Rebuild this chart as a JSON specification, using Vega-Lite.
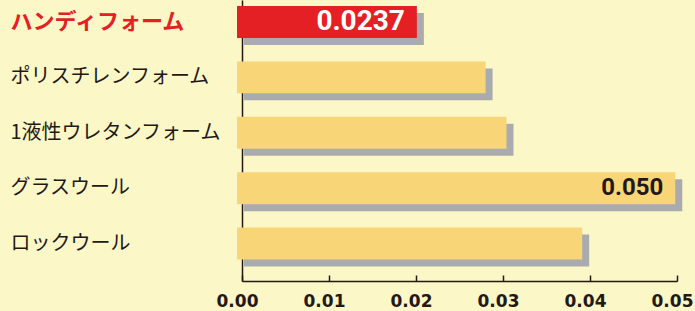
{
  "$schema": "https://vega.github.io/schema/vega-lite/v6.json",
  "width": 435,
  "height": 281,
  "autosize": {"type": "none"},
  "padding": {"left": 242, "top": 0, "right": 18, "bottom": 30},
  "background": "#FBF7C7",
  "config": {"view": {"stroke": null}},
  "data": {
    "values": [
      {"name": "ハンディフォーム", "value": 0.0201, "label": "0.0237", "hl": true},
      {"name": "ポリスチレンフォーム", "value": 0.028, "hl": false},
      {"name": "1液性ウレタンフォーム", "value": 0.0304, "hl": false},
      {"name": "グラスウール", "value": 0.0498, "label": "0.050", "hl": false},
      {"name": "ロックウール", "value": 0.0391, "hl": false}
    ]
  },
  "encoding": {
    "y": {
      "field": "name",
      "type": "nominal",
      "sort": null,
      "scale": {"paddingInner": 0.423, "paddingOuter": 0.2477, "align": 0.218},
      "axis": {
        "title": null,
        "domainColor": "#231815",
        "domainWidth": 1.5,
        "ticks": false,
        "labelAlign": "left",
        "labelBaseline": "middle",
        "labelPadding": 232,
        "labelLimit": 300,
        "labelFont": "Noto Sans CJK JP",
        "labelFontSize": {"condition": {"test": "datum.value == 'ハンディフォーム'", "value": 22}, "value": 20},
        "labelFontWeight": {"condition": {"test": "datum.value == 'ハンディフォーム'", "value": "bold"}, "value": "normal"},
        "labelColor": {"condition": {"test": "datum.value == 'ハンディフォーム'", "value": "#E42024"}, "value": "#231815"}
      }
    },
    "x": {
      "field": "value",
      "type": "quantitative",
      "scale": {"domain": [0, 0.05], "nice": false, "zero": false},
      "axis": {
        "title": null,
        "values": [0, 0.01, 0.02, 0.03, 0.04, 0.05],
        "format": ".2f",
        "grid": false,
        "domainColor": "#231815",
        "domainWidth": 1.5,
        "tickColor": "#231815",
        "tickWidth": 1.5,
        "tickSize": -6,
        "labelFlush": false,
        "labelOverlap": false,
        "labelOffset": -5,
        "labelPadding": 18,
        "labelFont": "DejaVu Sans",
        "labelFontWeight": "bold",
        "labelFontSize": 17,
        "labelColor": "#231815"
      }
    }
  },
  "layer": [
    {
      "mark": {"type": "bar", "color": "#AAABAF", "xOffset": 7, "x2Offset": 2, "yOffset": 7},
      "encoding": {
        "x2": {"datum": 0}
      }
    },
    {
      "mark": {"type": "bar", "x2Offset": -5},
      "encoding": {
        "x2": {"datum": 0},
        "color": {"condition": {"test": "datum.hl", "value": "#E42024"}, "value": "#F8D577"}
      }
    },
    {
      "transform": [{"filter": "isValid(datum.label)"}],
      "mark": {"type": "text", "align": "right", "baseline": "middle", "dx": -12, "font": "Roboto", "fontWeight": "bold"},
      "encoding": {
        "text": {"field": "label"},
        "color": {"condition": {"test": "datum.hl", "value": "#FFFFFF"}, "value": "#231815"},
        "size": {"condition": {"test": "datum.hl", "value": 28}, "value": 24}
      }
    }
  ]
}
